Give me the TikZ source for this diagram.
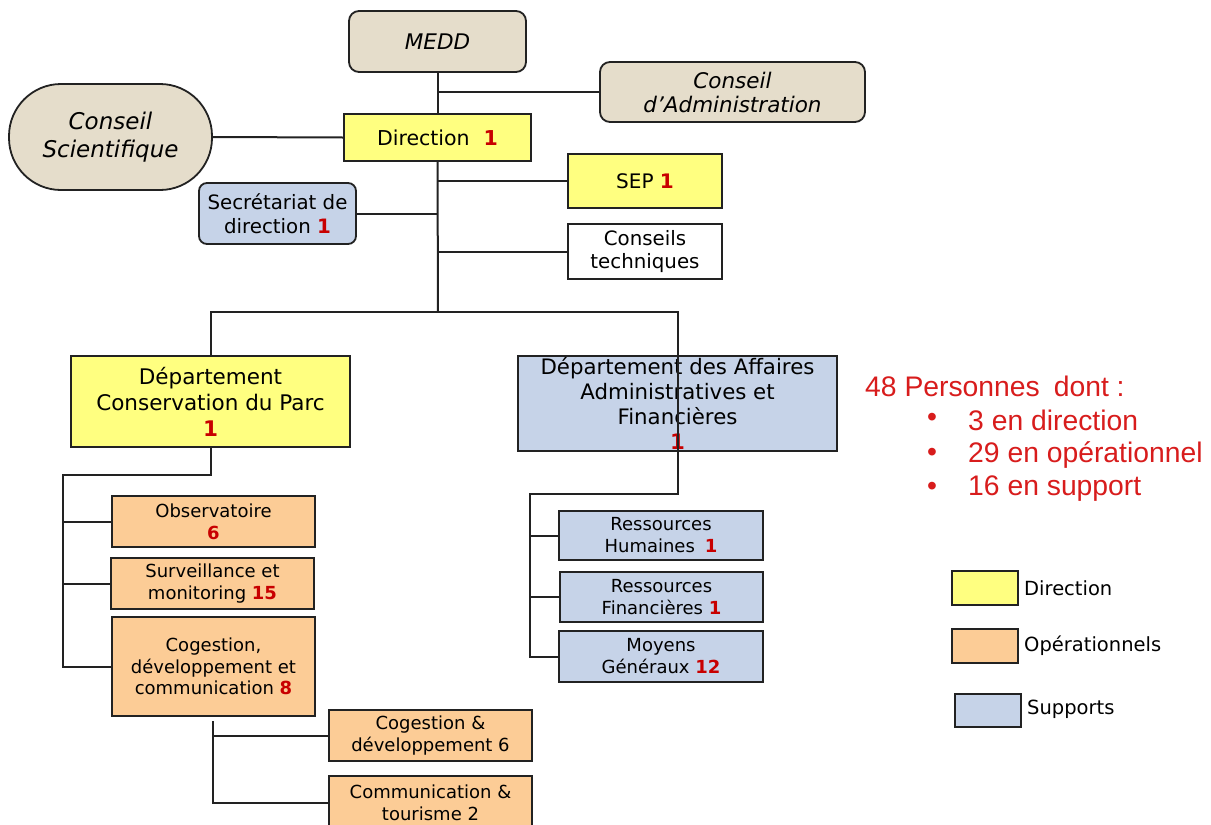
\documentclass[tikz,border=0pt]{standalone}
\usepackage{fontspec}
\newfontfamily\dv{DejaVu Sans}[ItalicFont={DejaVu Sans Oblique},BoldFont={DejaVu Sans Bold}]
\newfontfamily\lib{Liberation Sans}
\definecolor{beige}{HTML}{E5DDCB}
\definecolor{yel}{HTML}{FFFF80}
\definecolor{ora}{HTML}{FCCC96}
\definecolor{blu}{HTML}{C6D3E8}
\definecolor{numred}{HTML}{C80000}
\definecolor{legred}{HTML}{D81C1C}
\definecolor{linec}{HTML}{222222}
\newcommand\nb[1]{{\bfseries\color{numred}#1}}
\begin{document}
\begin{tikzpicture}[x=1pt,y=-1pt,
  box/.style={draw=linec, line width=1.8pt, inner sep=0pt, align=center, text=black,
    font=\dv\fontsize{18}{22}\selectfont},
  bigbox/.style={box, font=\dv\fontsize{21.5}{25.5}\selectfont},
  ital/.style={box, rounded corners=10pt, fill=beige, font=\dv\itshape\fontsize{21.5}{24}\selectfont},
  conn/.style={draw=linec, line width=2pt},
  legtext/.style={anchor=west, inner sep=0pt, font=\dv\fontsize{19.5}{23}\selectfont},
  redtext/.style={anchor=west, inner sep=0pt, text=legred, font=\lib\fontsize{28.3}{33}\selectfont}]
\clip (0,0) rectangle (1211,825);
\fill[white] (0,0) rectangle (1211,825);

% top level
\node[ital, minimum width=177pt, minimum height=61pt] (medd) at (437.5,41.5) {MEDD};
\node[ital, minimum width=265pt, minimum height=60pt] (ca) at (732.5,92) {Conseil\\d’Administration};
\node[ital, rounded corners=52pt, minimum width=203pt, minimum height=106pt,
  font=\dv\itshape\fontsize{23}{28}\selectfont] (cs) at (110.5,137) {Conseil\\Scientifique};
\node[box, fill=yel, minimum width=187pt, minimum height=47pt, font=\dv\fontsize{20.5}{24}\selectfont] (dir) at (437.5,137.5) {Direction\hspace{14pt}\nb{1}};
\node[box, fill=yel, minimum width=154pt, minimum height=54pt, font=\dv\fontsize{20}{23}\selectfont] (sep) at (645,181) {SEP \nb{1}};
\node[box, fill=blu, rounded corners=8pt, minimum width=157pt, minimum height=61pt,
  font=\dv\fontsize{19.8}{24}\selectfont] (sec) at (277.5,213.5) {Secrétariat de\\direction \nb{1}};
\node[box, fill=white, minimum width=154pt, minimum height=55pt, font=\dv\fontsize{19.8}{23}\selectfont] (ct) at (645,251.5) {Conseils\\techniques};

% departments
\node[bigbox, fill=yel, minimum width=279pt, minimum height=91pt,
  font=\dv\fontsize{21.5}{26}\selectfont] (dcp) at (210.5,401.5) {Département\\Conservation du Parc\\\nb{1}};
\node[bigbox, fill=blu, minimum width=319pt, minimum height=95pt,
  font=\dv\fontsize{21.3}{25}\selectfont] (daaf) at (677.5,403.5) {Département des Affaires\\Administratives et\\Financières\\\nb{1}};

% operational
\node[box, fill=ora, minimum width=203pt, minimum height=51pt] (obs) at (213.5,521.5) {Observatoire\\\nb{6}};
\node[box, fill=ora, minimum width=203pt, minimum height=51pt] (surv) at (212.5,583.5) {Surveillance et\\monitoring \nb{15}};
\node[box, fill=ora, minimum width=203pt, minimum height=99pt, font=\dv\fontsize{18}{21.5}\selectfont] (cdc) at (213.5,666.5) {Cogestion,\\développement et\\communication \nb{8}};
\node[box, fill=ora, minimum width=203pt, minimum height=51pt] (cogd) at (430.5,735.5) {Cogestion \&\\développement 6};
\node[box, fill=ora, minimum width=203pt, minimum height=54pt] (comt) at (430.5,803) {Communication \&\\tourisme 2};

% supports
\node[box, fill=blu, minimum width=204pt, minimum height=49pt] (rh) at (661,535.5) {Ressources\\Humaines\hspace{10pt}\nb{1}};
\node[box, fill=blu, minimum width=203pt, minimum height=50pt] (rf) at (661.5,597) {Ressources\\Financières \nb{1}};
\node[box, fill=blu, minimum width=204pt, minimum height=51pt] (mg) at (661,656.5) {Moyens\\Généraux \nb{12}};

% connectors
\coordinate (hub) at (438,312);
\coordinate (lbr) at (63,475);
\coordinate (rbr) at (530,494);
\coordinate (sbtop) at (213,721);
\draw[conn] (medd.south) -- (dir.north);
\draw[conn] (dir.south) -- (hub);
\draw[conn] (medd.south |- ca.west) -- (ca.west);
\draw[conn] (cs.east) -- (dir.west);
\draw[conn] (hub |- sep.west) -- (sep.west);
\draw[conn] (sec.east) -- (hub |- sec.east);
\draw[conn] (hub |- ct.west) -- (ct.west);
\draw[conn] (dcp.north) -- (dcp.north |- hub) -- (daaf.north |- hub) -- (daaf.center |- rbr) -- (rbr) -- (rbr |- mg.west) -- (mg.west);
\draw[conn] (rbr |- rh.west) -- (rh.west);
\draw[conn] (rbr |- rf.west) -- (rf.west);
\draw[conn] (dcp.south) -- (dcp.south |- lbr) -- (lbr) -- (lbr |- cdc.west) -- (cdc.west);
\draw[conn] (lbr |- obs.west) -- (obs.west);
\draw[conn] (lbr |- surv.west) -- (surv.west);
\draw[conn] (sbtop) -- (sbtop |- comt.west) -- (comt.west);
\draw[conn] (sbtop |- cogd.west) -- (cogd.west);

% summary
\node[redtext] (tot) at (865,386) {48 Personnes\hspace{14pt}dont :};
\node[redtext, anchor=center] (b1) at (932,420) {•};
\node[redtext, anchor=center] (b2) at (932,455) {•};
\node[redtext, anchor=center] (b3) at (932,489) {•};
\node[redtext] (t1) at (968,420) {3 en direction};
\node[redtext] (t2) at (968,455) {29 en opérationnel};
\node[redtext] (t3) at (968,489) {16 en support};

% legend
\node[box, fill=yel, minimum width=66pt, minimum height=34pt] (ld) at (985,588) {};
\node[box, fill=ora, minimum width=66pt, minimum height=34pt] (lo) at (985,646) {};
\node[box, fill=blu, minimum width=66pt, minimum height=33pt] (ls) at (988,710.5) {};
\node[legtext] (ldt) at (1024,588) {Direction};
\node[legtext] (lot) at (1024,646) {Opérationnels};
\node[legtext] (lst) at (1027,709) {Supports};
\end{tikzpicture}
\end{document}
